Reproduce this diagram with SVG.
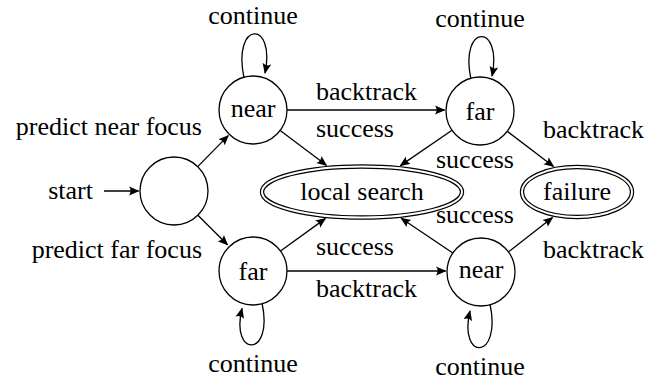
<svg xmlns="http://www.w3.org/2000/svg" width="660" height="379" viewBox="0 0 660 379" font-family="'Liberation Serif', 'Times New Roman', Times, 'Nimbus Roman', serif" font-size="26">
  <style>
    .mid { text-anchor: middle; }
    .end { text-anchor: end; }
    .state { fill: #fff; stroke: #000; stroke-width: 1.3; }
    .acc-outer { fill: #fff; stroke: #000; stroke-width: 4.4; }
    .acc-inner { fill: none; stroke: #fff; stroke-width: 2; }
    .edge { fill: none; stroke: #000; stroke-width: 1.3; marker-end: url(#tip); }
  </style>
  <defs>
    <marker id="tip" markerUnits="userSpaceOnUse" markerWidth="11" markerHeight="10" viewBox="0 0 11 10" refX="9.5" refY="5" orient="auto">
      <path d="M10.5,5 L0,0.6 Q3.2,5 0,9.4 Z" fill="#000"/>
    </marker>
  </defs>

  <!-- transitions -->
  <g id="connectors">
    <path class="edge" d="M104,191 L138.5,191"/>
    <path class="edge" d="M197.7,166.6 L228.2,135.6"/>
    <path class="edge" d="M197.9,215.2 L227.5,244.8"/>
    <path class="edge" d="M287,110 L444.5,110"/>
    <path class="edge" d="M287,271 L445.5,271"/>
    <path class="edge" d="M280.2,130.4 L326.4,165.3"/>
    <path class="edge" d="M452,130.2 L400.4,165.6"/>
    <path class="edge" d="M280.5,251 L325.3,218.6"/>
    <path class="edge" d="M452.8,253 L401.2,218.3"/>
    <path class="edge" d="M507.5,131.5 L553.5,166.5"/>
    <path class="edge" d="M509,251.5 L552.5,217.5"/>
    <!-- self loops -->
    <path class="edge" d="M244,78 C232,20 276,20 265,73"/>
    <path class="edge" d="M471,79.5 C459,23 503,23 492,76"/>
    <path class="edge" d="M262,303 C274,358 230,358 242,308.5"/>
    <path class="edge" d="M490,304 C502,361 458,361 470,311"/>
  </g>

  <!-- transition labels -->
  <g id="edge-labels" font-family="Liberation Serif, serif">
    <text x="93" y="199" class="end">start</text>
    <text x="202" y="135" class="end">predict near focus</text>
    <text x="202" y="258" class="end">predict far focus</text>
    <text x="316" y="100">backtrack</text>
    <text x="316" y="137">success</text>
    <text x="436" y="168">success</text>
    <text x="543" y="138">backtrack</text>
    <text x="436" y="223">success</text>
    <text x="543" y="258">backtrack</text>
    <text x="316" y="255">success</text>
    <text x="316" y="297">backtrack</text>
    <text x="253" y="24" class="mid">continue</text>
    <text x="480" y="27" class="mid">continue</text>
    <text x="253" y="372" class="mid">continue</text>
    <text x="480" y="374.5" class="mid">continue</text>
  </g>

  <!-- states -->
  <g id="start">
    <circle class="state" cx="174" cy="191" r="34"/>
  </g>
  <g id="near-top">
    <circle class="state" cx="253" cy="110" r="34"/>
    <text class="mid" x="253" y="116.5">near</text>
  </g>
  <g id="far-top">
    <circle class="state" cx="480" cy="111" r="34"/>
    <text class="mid" x="480" y="119.5">far</text>
  </g>
  <g id="far-bottom">
    <circle class="state" cx="253" cy="271" r="34"/>
    <text class="mid" x="253" y="280">far</text>
  </g>
  <g id="near-bottom">
    <circle class="state" cx="481" cy="272" r="34"/>
    <text class="mid" x="481" y="277.5">near</text>
  </g>
  <g id="local-search">
    <ellipse class="acc-outer" cx="362" cy="192" rx="100" ry="25.5"/>
    <ellipse class="acc-inner" cx="362" cy="192" rx="100" ry="25.5"/>
    <text class="mid" x="362" y="200">local search</text>
  </g>
  <g id="failure">
    <ellipse class="acc-outer" cx="577" cy="192" rx="55" ry="25"/>
    <ellipse class="acc-inner" cx="577" cy="192" rx="55" ry="25"/>
    <text class="mid" x="577" y="200">failure</text>
  </g>
</svg>
